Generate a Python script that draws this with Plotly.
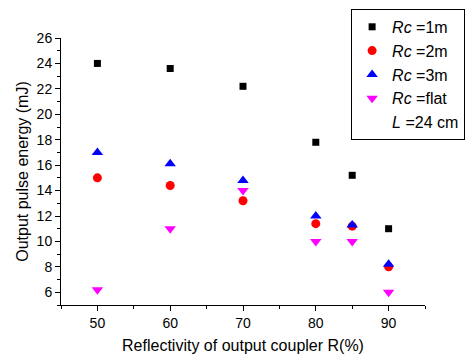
import plotly.graph_objects as go

reflectivity = [50, 60, 70, 80, 85, 90]
rc_1m = [24.0, 23.6, 22.2, 17.8, 15.2, 11.0]
rc_2m = [15.0, 14.4, 13.2, 11.4, 11.2, 8.0]
rc_3m = [17.0, 16.1, 14.8, 12.0, 11.3, 8.2]
rc_flat = [6.2, 11.0, 14.0, 10.0, 10.0, 6.0]

series = [
    ("<i>Rc</i> =1m", rc_1m, "black", "square", 7),
    ("<i>Rc</i> =2m", rc_2m, "red", "circle", 9),
    ("<i>Rc</i> =3m", rc_3m, "blue", "triangle-up", 10),
    ("<i>Rc</i> =flat", rc_flat, "magenta", "triangle-down", 10),
]

fig = go.Figure()
for name, ys, color, sym, size in series:
    fig.add_trace(go.Scatter(x=reflectivity, y=ys, mode="markers", name=name,
                             marker=dict(color=color, symbol=sym, size=size, line=dict(width=0))))
fig.add_trace(go.Scatter(x=[None], y=[None], mode="markers", name="<i>L</i> =24 cm",
                         marker=dict(color="rgba(0,0,0,0)", size=1)))

font = "Liberation Sans, Arial, sans-serif"
fig.update_layout(
    width=465, height=354,
    margin=dict(l=61, r=40, t=38, b=49, autoexpand=False),
    plot_bgcolor="white", paper_bgcolor="white",
    font=dict(family=font, size=14, color="black"),
    showlegend=True,
    legend=dict(x=0.797, y=1.109, xanchor="left", yanchor="top",
                bordercolor="black", borderwidth=1, bgcolor="white",
                font=dict(size=16), tracegroupgap=0, itemsizing="trace", itemwidth=30),
    xaxis=dict(range=[45, 95], tickvals=[50, 60, 70, 80, 90], showgrid=False, zeroline=False,
               showline=True, linecolor="black", linewidth=1, ticks="outside", ticklen=5,
               tickcolor="black", minor=dict(tickvals=[45, 55, 65, 75, 85, 95], ticks="outside",
                                            ticklen=3, tickcolor="black"),
               title=dict(text="Reflectivity of output coupler R(%)", font=dict(size=16), standoff=18)),
    yaxis=dict(range=[5, 26], tickvals=[6, 8, 10, 12, 14, 16, 18, 20, 22, 24, 26], showgrid=False,
               zeroline=False, showline=True, linecolor="black", linewidth=1, ticks="outside",
               ticklen=5, tickcolor="black",
               minor=dict(tickvals=[5, 7, 9, 11, 13, 15, 17, 19, 21, 23, 25], ticks="outside",
                          ticklen=3, tickcolor="black"),
               title=dict(text="Output pulse energy (mJ)", font=dict(size=16), standoff=4)),
)
fig.write_html("out.html")
